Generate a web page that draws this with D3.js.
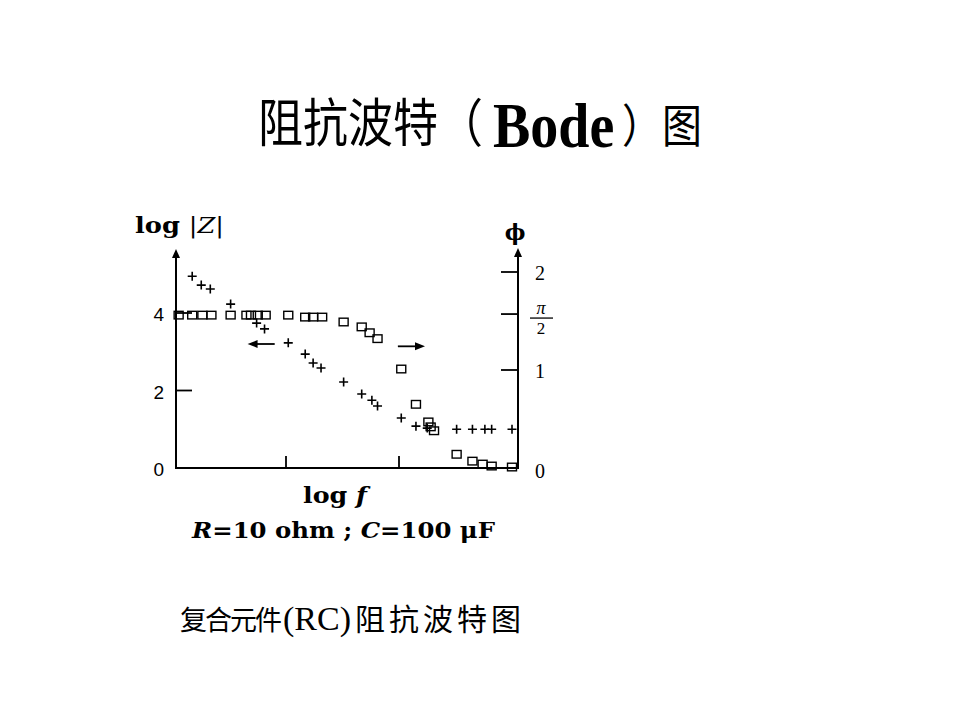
<!DOCTYPE html>
<html><head><meta charset="utf-8">
<script src="https://cdn.jsdelivr.net/npm/d3@7"></script>
<style>html,body{margin:0;padding:0;background:#fff;}</style>
</head><body>
<svg id="c" width="960" height="720"></svg>
<script>
// ---- data ----
// log|Z| series ("+" markers, left axis)
const zLogF  = [0.17,0.25,0.33,0.51,0.74,0.81,1.02,1.17,1.24,1.31,1.51,1.67,1.76,1.81,2.02,2.15,2.25,2.51,2.65,2.76,2.82,3.00];
const zLogZ  = [4.95,4.72,4.62,4.23,3.74,3.59,3.23,2.94,2.71,2.58,2.22,1.91,1.75,1.60,1.29,1.08,1.03,1.00,1.00,1.00,1.00,1.00];
// phase series (square markers, right axis)
const pLogF  = [0.05,0.17,0.26,0.34,0.51,0.65,0.69,0.75,0.82,1.02,1.17,1.24,1.32,1.51,1.67,1.74,1.81,2.02,2.15,2.26,2.28,2.31,2.51,2.65,2.74,2.82,3.00];
const pPhase = [1.56,1.56,1.56,1.56,1.56,1.56,1.56,1.56,1.56,1.56,1.54,1.54,1.54,1.49,1.44,1.38,1.32,1.01,0.65,0.47,0.42,0.38,0.14,0.07,0.04,0.02,0.01];
const leftTicks  = [0,2,4];
const rightTicks = [0,1,Math.PI/2,2];
const xTicks     = [1,2];
const titleText   = ["阻抗波特（","Bode","）图"];
const captionText = ["复合元件","(RC)","阻抗波特图"];

// ---- layout ----
const svg = d3.select("#c");
const L = 176, R = 518, B = 468, T = 249;
const x  = d3.scaleLinear().domain([0,3]).range([173,512]);
const yL = d3.scaleLinear().domain([0,4]).range([B,313]);
const yR = d3.scaleLinear().domain([0,2]).range([B,272]);

svg.append("rect").attr("width",960).attr("height",720).attr("fill","#fff");

const cjk = "'Noto Sans CJK SC', sans-serif";
const serif = "'Liberation Serif', 'Times New Roman', serif";

// title (one text element, slightly stretched vertically like the reference)
const tt = svg.append("text").attr("transform","translate(258,142) scale(1,1.15)")
  .attr("font-family",cjk).attr("font-size",45);
tt.append("tspan").attr("x",0).attr("y",0).text(titleText[0]);
tt.append("tspan").attr("x",235).attr("y",4).attr("font-family",serif).attr("font-weight","bold")
  .attr("font-size",56).text(titleText[1]);
tt.append("tspan").attr("x",364).attr("y",0).attr("font-size",40).text(titleText[2]);

// axes
const ax = svg.append("g").attr("stroke","#000").attr("stroke-width",2).attr("fill","none");
ax.append("line").attr("x1",L).attr("x2",L).attr("y1",B+1).attr("y2",T+6);
ax.append("line").attr("x1",R).attr("x2",R).attr("y1",B+1).attr("y2",T+5);
ax.append("line").attr("x1",L).attr("x2",R).attr("y1",B).attr("y2",B);
svg.append("path").attr("d",`M${L},${T} l-4,9 l8,0 z`).attr("fill","#000");
svg.append("path").attr("d",`M${R},${T-1} l-4,9 l8,0 z`).attr("fill","#000");

// ticks
const tk = svg.append("g").attr("stroke","#000").attr("stroke-width",1.8);
tk.selectAll(".lt").data(leftTicks.filter(d=>d>0)).join("line")
  .attr("x1",L).attr("x2",L+16).attr("y1",d=>yL(d)).attr("y2",d=>yL(d));
tk.selectAll(".rt").data(rightTicks.filter(d=>d>0)).join("line")
  .attr("x1",R-17).attr("x2",R).attr("y1",d=>yR(d)).attr("y2",d=>yR(d));
tk.selectAll(".xt").data(xTicks).join("line")
  .attr("x1",d=>x(d)).attr("x2",d=>x(d)).attr("y1",B).attr("y2",B-12);

// tick labels
svg.selectAll(".ll").data(leftTicks).join("text")
  .attr("x",164).attr("y",d=>yL(d)+8).attr("text-anchor","end")
  .attr("font-family","'Liberation Sans', Arial, sans-serif").attr("font-size",19).text(d=>d);
svg.selectAll(".rl").data([0,1,2]).join("text")
  .attr("x",535).attr("y",d=>yR(d)+(d===0?10:8)).attr("font-family",serif).attr("font-size",20).text(d=>d);
// pi/2 fraction (single text element)
const yPi = yR(Math.PI/2);
const fr = svg.append("text").attr("font-family",serif).attr("text-anchor","middle");
fr.append("tspan").attr("x",541).attr("y",yPi).attr("font-style","italic").attr("font-size",18).text("π");
fr.append("tspan").attr("x",541).attr("y",yPi+20).attr("font-size",17).text("2");
svg.append("line").attr("x1",530).attr("x2",553).attr("y1",yPi+4).attr("y2",yPi+4).attr("stroke","#000").attr("stroke-width",1.3);

// axis titles
const dv = "'DejaVu Serif', serif";
const t1 = svg.append("text").attr("x",135).attr("y",233).attr("font-family",dv).attr("font-size",22)
  .attr("textLength",89).attr("lengthAdjust","spacingAndGlyphs");
t1.append("tspan").attr("font-weight","bold").text("log ");
t1.append("tspan").text("|");
t1.append("tspan").attr("font-style","italic").text("Z");
t1.append("tspan").text("|");

svg.append("text").attr("x",515).attr("y",240).attr("text-anchor","middle").attr("font-family",dv)
  .attr("font-weight","bold").attr("font-size",22).text("ϕ");

const t2 = svg.append("text").attr("x",303).attr("y",503).attr("font-family",dv).attr("font-size",22)
  .attr("font-weight","bold").attr("textLength",64).attr("lengthAdjust","spacingAndGlyphs");
t2.append("tspan").text("log ");
t2.append("tspan").attr("font-style","italic").text("f");

const t3 = svg.append("text").attr("x",192).attr("y",538).attr("font-family",dv).attr("font-size",22)
  .attr("font-weight","bold").attr("textLength",303).attr("lengthAdjust","spacingAndGlyphs");
t3.append("tspan").attr("font-style","italic").text("R");
t3.append("tspan").text("=10 ohm ; ");
t3.append("tspan").attr("font-style","italic").text("C");
t3.append("tspan").text("=100 μF");

// direction arrows
const ar = svg.append("g").attr("stroke","#000").attr("stroke-width",1.8);
const yArrL = yL(3.2), yArrR = yL(3.14);
ar.append("line").attr("x1",x(0.9)).attr("x2",x(0.74)).attr("y1",yArrL).attr("y2",yArrL);
svg.append("path").attr("d",`M${x(0.66)},${yArrL} l10,-4 l0,8 z`).attr("fill","#000");
ar.append("line").attr("x1",x(1.99)).attr("x2",x(2.15)).attr("y1",yArrR).attr("y2",yArrR);
svg.append("path").attr("d",`M${x(2.23)},${yArrR} l-10,-4 l0,8 z`).attr("fill","#000");

// phase squares
svg.append("g").selectAll("rect").data(pLogF.map((f,i)=>[f,pPhase[i]])).join("rect")
  .attr("x",d=>x(d[0])-4.5).attr("y",d=>yR(d[1])-3.8).attr("width",9).attr("height",7.6)
  .attr("fill","none").attr("stroke","#000").attr("stroke-width",1.4);

// |Z| pluses
svg.append("g").selectAll("path").data(zLogF.map((f,i)=>[f,zLogZ[i]])).join("path")
  .attr("d",d=>{const cx=x(d[0]), cy=yL(d[1]); return `M${cx-4.5},${cy}h9M${cx},${cy-4.5}v9`;})
  .attr("stroke","#000").attr("stroke-width",1.6).attr("fill","none");

// caption (single text element)
const cap = svg.append("text").attr("y",630).attr("font-family",cjk);
cap.append("tspan").attr("x",180).attr("font-size",27).attr("letter-spacing",-2).text(captionText[0]);
cap.append("tspan").attr("x",283).attr("font-family",serif).attr("font-size",34).text(captionText[1]);
cap.append("tspan").attr("x",355).attr("font-size",30).attr("letter-spacing",4).text(captionText[2]);
</script>
</body></html>
